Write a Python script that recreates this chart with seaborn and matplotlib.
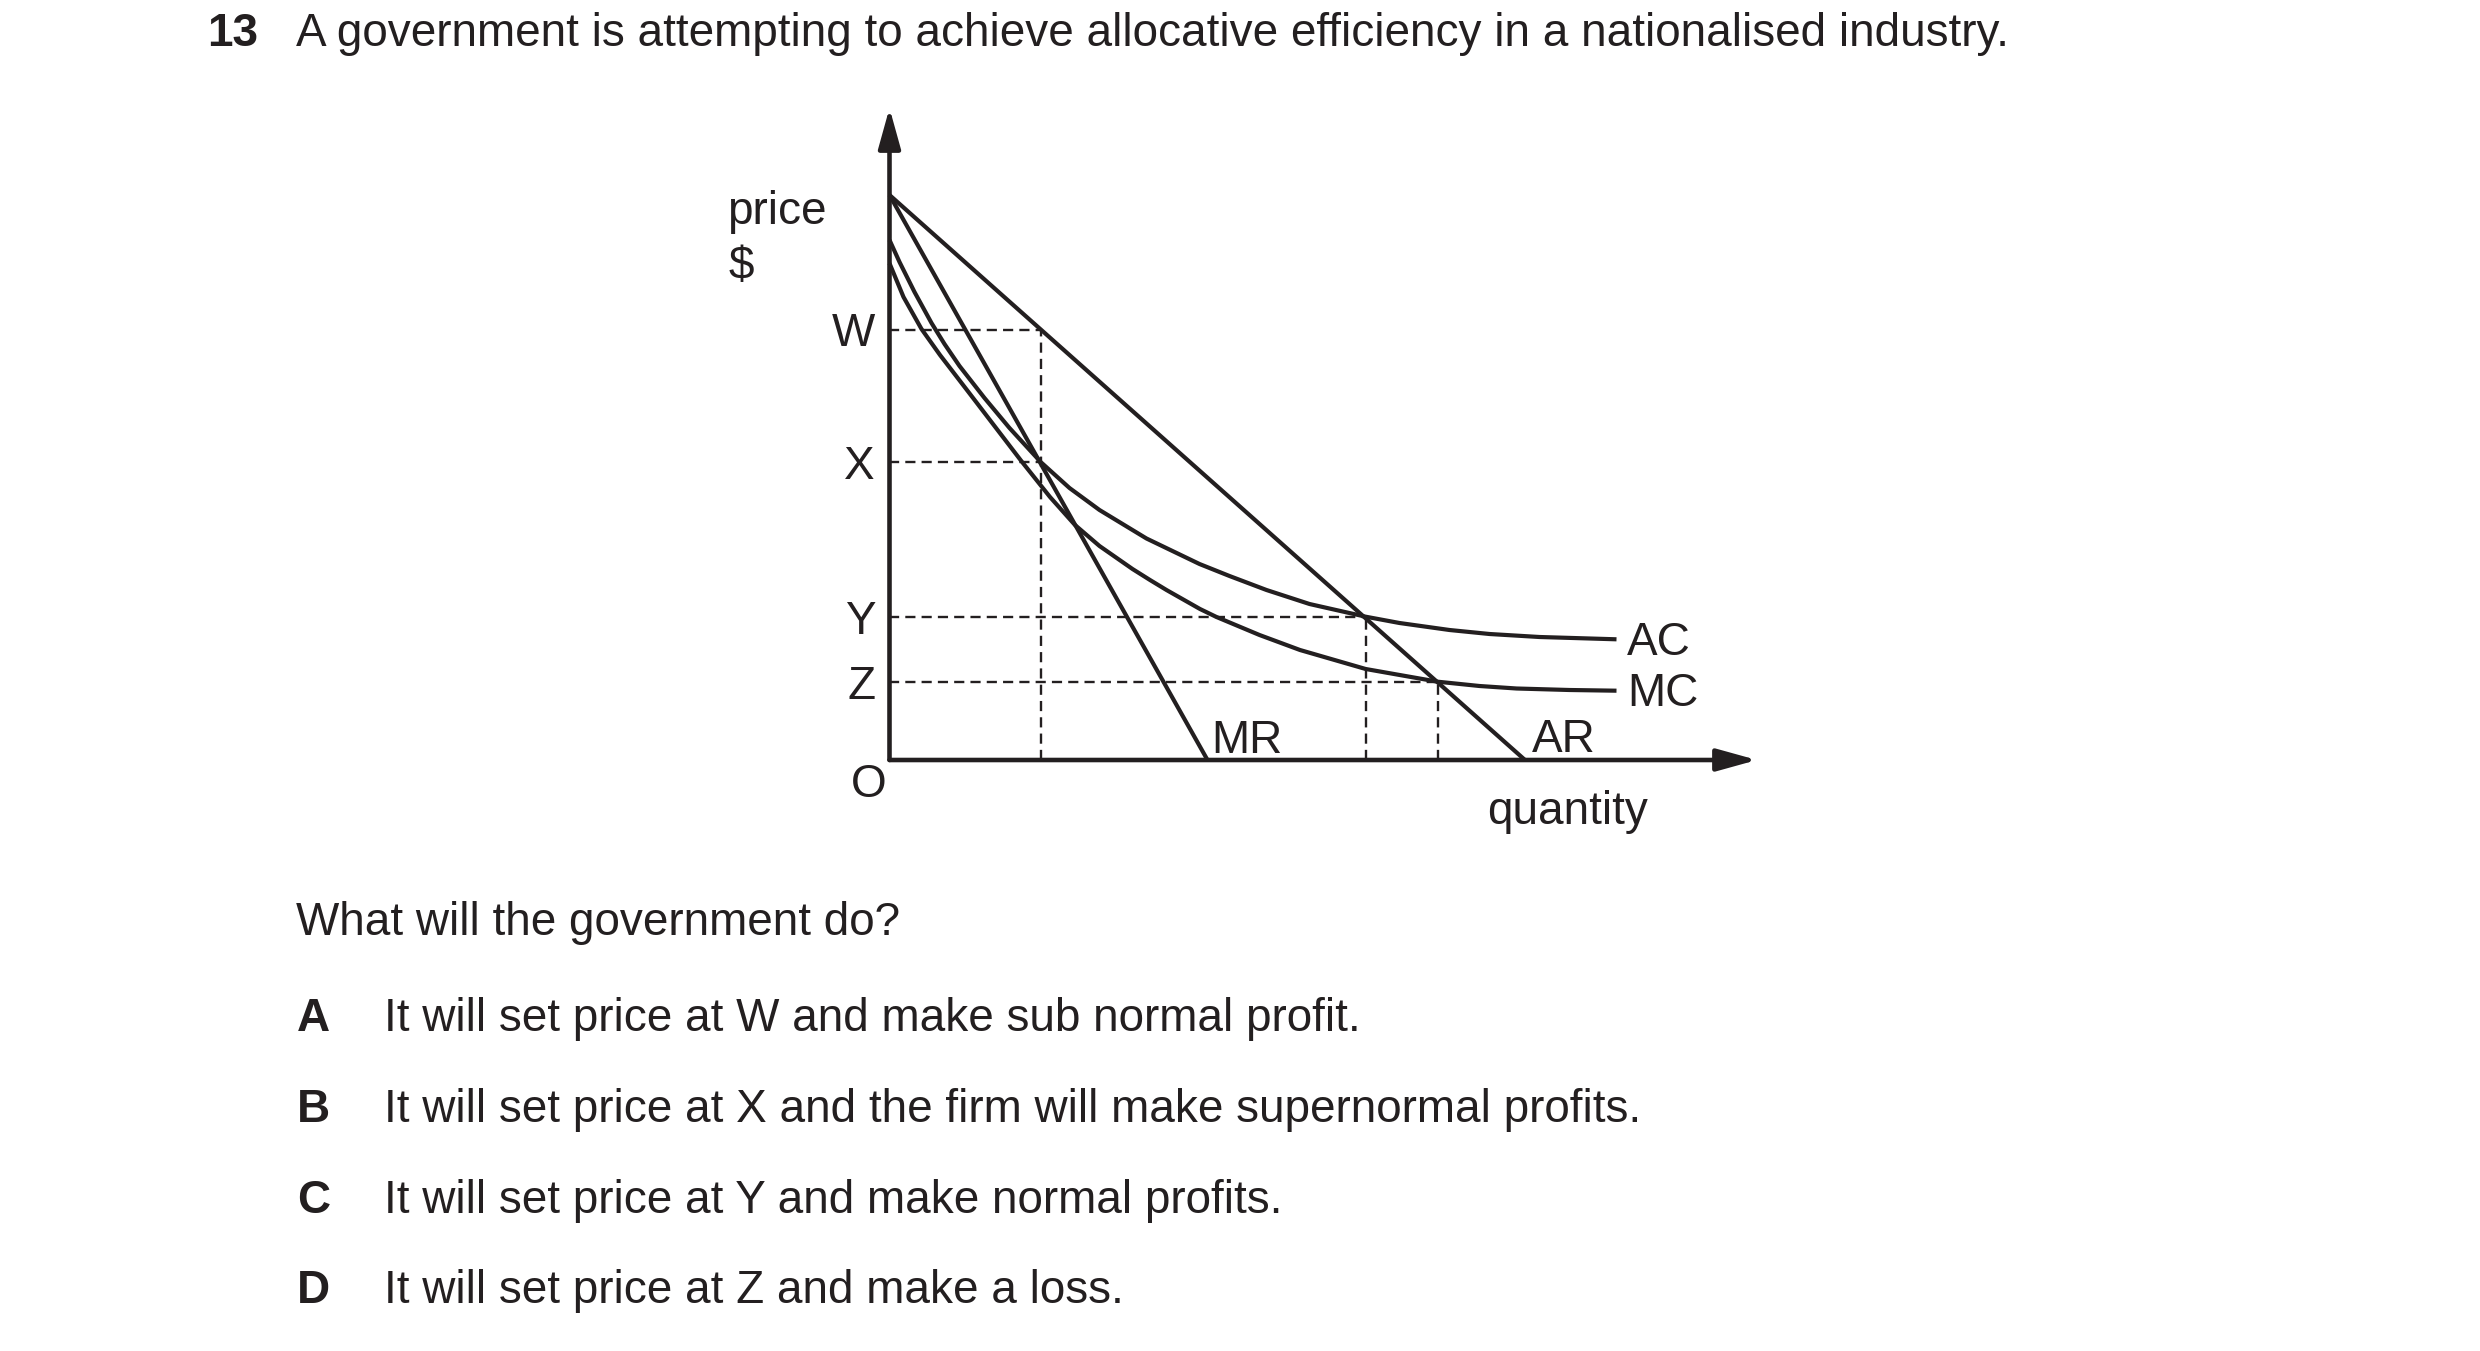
import matplotlib
matplotlib.use("Agg")
import matplotlib.pyplot as plt
import seaborn as sns

# values (units: quantity / price, origin at O)
ar_q = [0, 635.5]
ar_p = [565, 0]
mr_q = [0, 318]
mr_p = [565, 0]

ac_q = [0, 10, 25, 42, 55, 70, 95, 120, 151.5, 180, 210, 257, 310, 340, 377, 420, 476.2, 510, 560, 600, 650, 727]
ac_p = [520, 498, 468, 437, 416, 394, 362, 332, 297.7, 272, 250, 221.5, 196, 184, 170, 156, 143.3, 137, 130, 126, 123, 120.7]

mc_q = [0, 14, 32, 50.5, 80.5, 105, 131.8, 160.5, 185.5, 210, 243, 260.5, 277, 310.5, 327, 370, 410.5, 476.2, 548.2, 590, 627, 680, 727]
mc_p = [496.7, 463, 431, 405, 366, 334, 299, 263, 235, 214, 191, 180, 170, 151, 143, 125, 110, 91, 78.3, 74, 71.5, 70, 69.3]

price_levels = [430.5, 297.7, 143.3, 78.3]
price_labels = ["W", "X", "Y", "Z"]
level_q = [151.5, 151.5, 476.2, 548.2]
drop_q = [151.5, 476.2, 548.2]
drop_p = [430.5, 143.3, 78.3]

title_num = "13"
title = "A government is attempting to achieve allocative efficiency in a nationalised industry."
question = "What will the government do?"
option_keys = ["A", "B", "C", "D"]
option_texts = [
    "It will set price at W and make sub normal profit.",
    "It will set price at X and the firm will make supernormal profits.",
    "It will set price at Y and make normal profits.",
    "It will set price at Z and make a loss.",
]

sns.set_style("white")
plt.rcParams['font.family'] = ['Liberation Sans', 'DejaVu Sans']
ink = "#231f20"
fs = 33

W, H = 2480, 1351
fig = plt.figure(figsize=(W / 100, H / 100), dpi=100)
ox, oy = 889.5, 760
xmax, ymax = 860.5, 646
ax = fig.add_axes([ox / W, (H - oy) / H, xmax / W, ymax / H])
ax.set_xlim(0, xmax)
ax.set_ylim(0, ymax)
sns.despine(ax=ax, left=True, bottom=True)

# dashed guide lines
dash = (0, (4.3, 2.6))
ax.hlines(price_levels, 0, level_q, colors=ink, lw=1.7, linestyles=[dash])
ax.vlines(drop_q, 0, drop_p, colors=ink, lw=1.7, linestyles=[dash])

for q, p in [(ar_q, ar_p), (mr_q, mr_p), (ac_q, ac_p), (mc_q, mc_p)]:
    sns.lineplot(x=q, y=p, ax=ax, color=ink, lw=3.0, clip_on=False,
                 solid_joinstyle="round", solid_capstyle="butt")

# axes with arrow heads
arrow = dict(arrowstyle="-|>,head_length=24.5,head_width=6.8", color=ink, lw=3.3,
             shrinkA=0, shrinkB=0, mutation_scale=1)
ax.annotate("", xy=(xmax + 7, 0), xytext=(0, 0), arrowprops=arrow, annotation_clip=False)
ax.annotate("", xy=(0, ymax + 6), xytext=(0, 0), arrowprops=arrow, annotation_clip=False)

ax.set_xticks([])
ax.set_yticks(price_levels)
ax.set_yticklabels(price_labels, fontsize=fs, color=ink)
ax.tick_params(axis="y", length=0, pad=10.4)

ax.text(-20.5, -25, "O", fontsize=fs, color=ink, ha="center", va="center")
ax.text(-162, 548, "price", fontsize=fs, color=ink, ha="left", va="center")
ax.text(-161, 493, "$", fontsize=fs, color=ink, ha="left", va="center")
ax.text(321.5, 19, "MR", fontsize=fs, color=ink, ha="left", va="center")
ax.text(642.5, 20, "AR", fontsize=fs, color=ink, ha="left", va="center")
ax.text(737.5, 117, "AC", fontsize=fs, color=ink, ha="left", va="center")
ax.text(737.5, 66, "MC", fontsize=fs, color=ink, ha="left", va="center")
ax.text(597.5, -52, "quantity", fontsize=fs, color=ink, ha="left", va="center")

def put(x, y, s, bold=False):
    fig.text(x / W, 1 - y / H, s, fontsize=fs, color=ink, ha="left", va="baseline",
             fontweight="bold" if bold else "normal")

put(207, 46, title_num, bold=True)
put(296, 46, title)
put(296, 935, question)
for i, (k, t) in enumerate(zip(option_keys, option_texts)):
    yb = [1031, 1121.5, 1213, 1303][i]
    put(297, yb, k, bold=True)
    put(384, yb, t)

fig.savefig("out.png", dpi=100)
